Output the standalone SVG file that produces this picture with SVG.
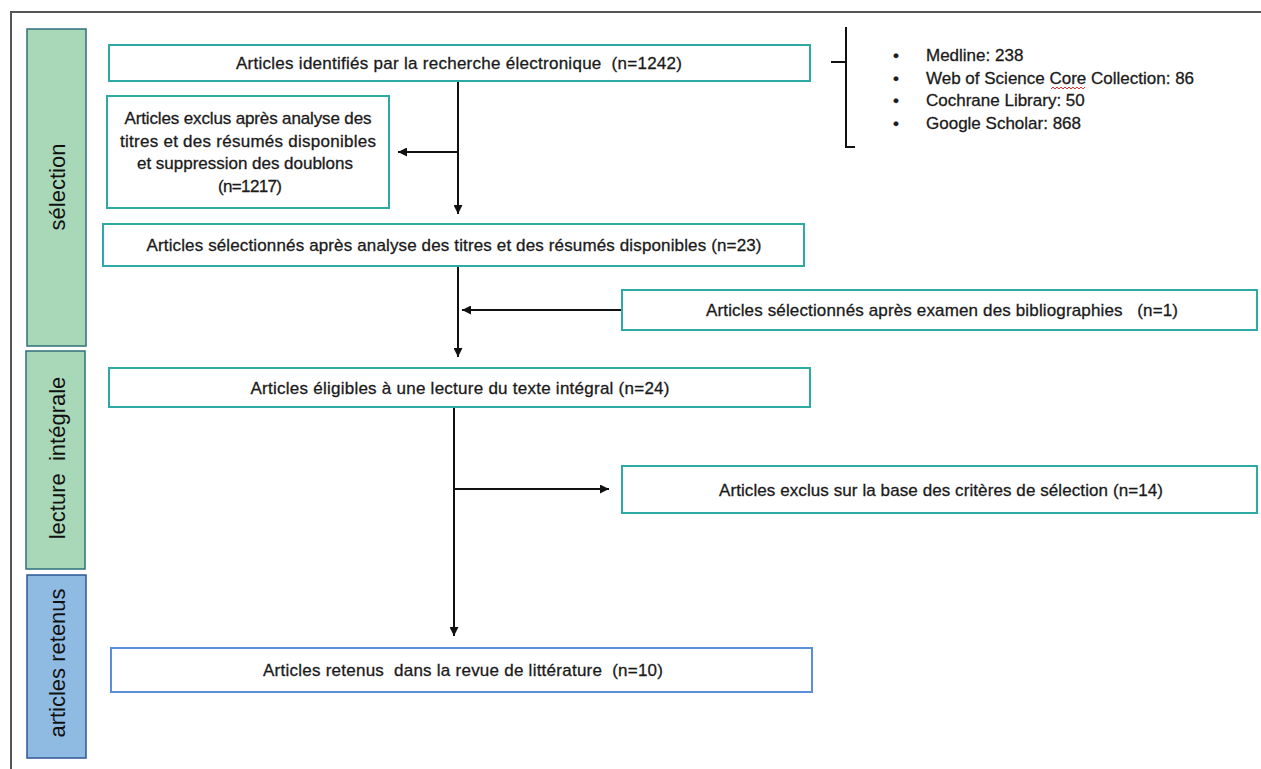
<svg xmlns="http://www.w3.org/2000/svg" width="1261" height="769" viewBox="0 0 1261 769">
<defs>
<style>
.frame{fill:none;stroke:#555;stroke-width:2}
.bar-g{fill:#a9d8b9;stroke:#2f6f7a;stroke-width:1.5}
.bar-b{fill:#8fbbe3;stroke:#2e5597;stroke-width:1.5}
.side{font-family:"Liberation Sans",Arial,sans-serif;font-size:22px;fill:#111;text-anchor:middle;white-space:pre}
.box{fill:#fff;stroke:#2eaaa5;stroke-width:2}
.box-b{fill:#fff;stroke:#5b8ed8;stroke-width:2}
.t{font-family:"Liberation Sans",Arial,sans-serif;font-size:17px;fill:#1a1a1a;stroke:#1a1a1a;stroke-width:0.3;text-anchor:middle;white-space:pre}
.li{font-family:"Liberation Sans",Arial,sans-serif;font-size:17px;fill:#1a1a1a;stroke:#1a1a1a;stroke-width:0.3}
.c{fill:none;stroke:#111;stroke-width:2}
</style>
<marker id="ah" viewBox="0 0 10 10" refX="10" refY="5" markerWidth="4.5" markerHeight="4.5" orient="auto" markerUnits="strokeWidth">
<path d="M0,0 L10,5 L0,10 z" fill="#111"/>
</marker>
</defs>
<rect width="1261" height="769" fill="#fff"/>
<path class="frame" d="M11,769 V12 H1261"/>

<g id="phase-selection">
<rect class="bar-g" x="27" y="29" width="59" height="317"/>
<text class="side" transform="translate(57,187) rotate(-90)" dy="0.35em">sélection</text>
</g>
<g id="phase-lecture">
<rect class="bar-g" x="26" y="351" width="59" height="218"/>
<text class="side" transform="translate(57,458) rotate(-90)" dy="0.35em">lecture  intégrale</text>
</g>
<g id="phase-retenus">
<rect class="bar-b" x="27" y="575" width="59" height="183"/>
<text class="side" transform="translate(57,663) rotate(-90)" dy="0.35em">articles retenus</text>
</g>

<g id="connectors">
<path class="c" d="M458,70 V214" marker-end="url(#ah)"/>
<path class="c" d="M458,152 H398" marker-end="url(#ah)"/>
<path class="c" d="M458,266 V357" marker-end="url(#ah)"/>
<path class="c" d="M622,310 H462" marker-end="url(#ah)"/>
<path class="c" d="M454,407 V636" marker-end="url(#ah)"/>
<path class="c" d="M454,489 H609" marker-end="url(#ah)"/>
<path class="c" d="M846,27 V147 H855"/>
<path class="c" d="M831,62 H846"/>
</g>

<g id="n-identifies">
<rect class="box" x="109" y="45" width="701" height="36"/>
<text class="t" x="459" y="69" textLength="446">Articles identifiés par la recherche électronique  (n=1242)</text>
</g>
<g id="n-sources">
<text class="li" x="893" y="61">•</text><text class="li" x="926" y="61">Medline: 238</text>
<text class="li" x="893" y="84">•</text><text class="li" x="926" y="84">Web of Science Core Collection: 86</text>
<text class="li" x="893" y="106">•</text><text class="li" x="926" y="106">Cochrane Library: 50</text>
<text class="li" x="893" y="129">•</text><text class="li" x="926" y="129">Google Scholar: 868</text>
<path d="M1051,89 l2,-2 l2,2 l2,-2 l2,2 l2,-2 l2,2 l2,-2 l2,2 l2,-2 l2,2 l2,-2 l2,2 l2,-2 l2,2 l2,-2 l2,2 l2,-2" fill="none" stroke="#e03030" stroke-width="1"/>
</g>
<g id="n-exclus1">
<rect class="box" x="107" y="96" width="282" height="112"/>
<text class="t" x="248" y="124" textLength="247">Articles exclus après analyse des</text>
<text class="t" x="248" y="147" textLength="256">titres et des résumés disponibles</text>
<text class="t" x="245" y="169" textLength="216">et suppression des doublons</text>
<text class="t" x="250" y="192" textLength="64">(n=1217)</text>
</g>
<g id="n-selectionnes">
<rect class="box" x="103" y="224" width="701" height="42"/>
<text class="t" x="454" y="251" textLength="615">Articles sélectionnés après analyse des titres et des résumés disponibles (n=23)</text>
</g>
<g id="n-biblio">
<rect class="box" x="622" y="290" width="635" height="40"/>
<text class="t" x="942" y="316" textLength="472">Articles sélectionnés après examen des bibliographies   (n=1)</text>
</g>
<g id="n-eligibles">
<rect class="box" x="109" y="368" width="701" height="39"/>
<text class="t" x="460" y="394" textLength="419">Articles éligibles à une lecture du texte intégral (n=24)</text>
</g>
<g id="n-exclus2">
<rect class="box" x="622" y="466" width="635" height="47"/>
<text class="t" x="941" y="496" textLength="444">Articles exclus sur la base des critères de sélection (n=14)</text>
</g>
<g id="n-retenus">
<rect class="box-b" x="111" y="648" width="701" height="44"/>
<text class="t" x="463" y="676" textLength="400">Articles retenus  dans la revue de littérature  (n=10)</text>
</g>
</svg>
